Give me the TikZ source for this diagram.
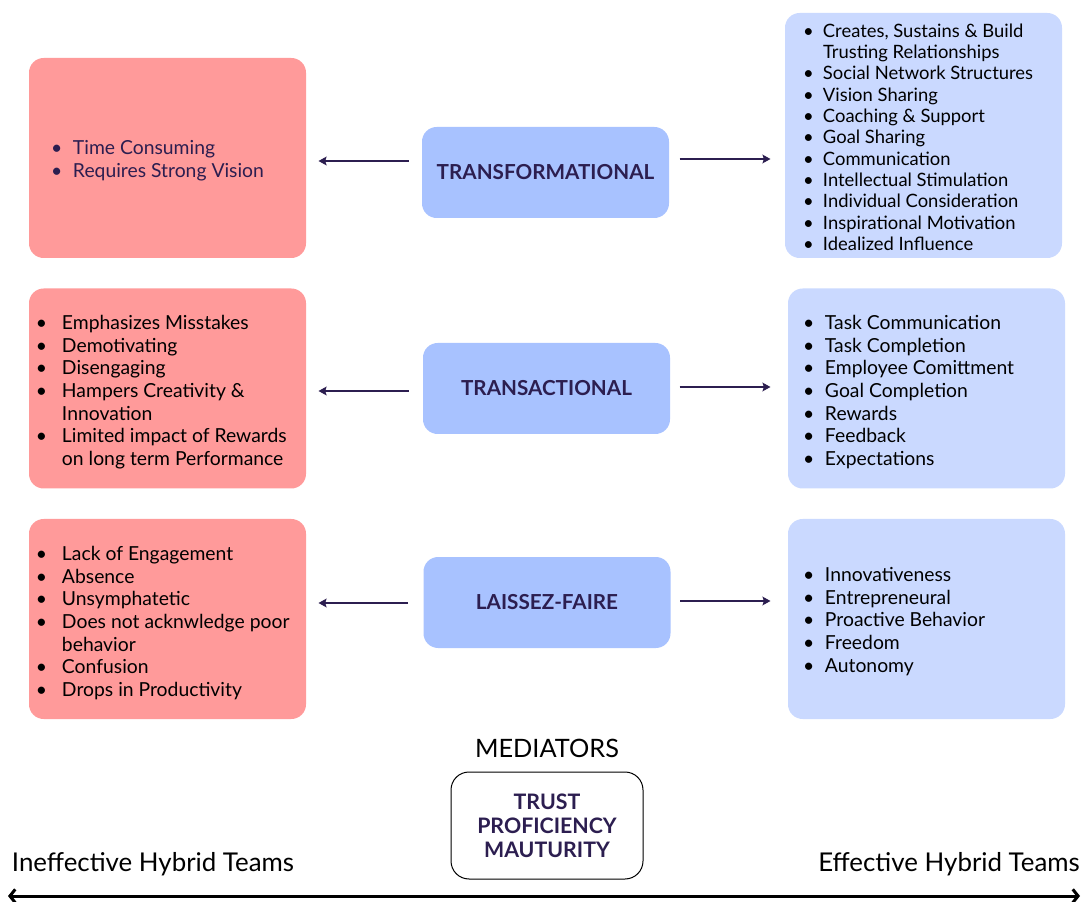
\documentclass[tikz,border=0pt]{standalone}
\usepackage{fontspec}
\setmainfont{Lato}
\usetikzlibrary{arrows.meta,calc}

\definecolor{redfill}{RGB}{255,154,154}
\definecolor{midblue}{RGB}{168,194,255}
\definecolor{paleblue}{RGB}{202,217,255}
\definecolor{ink}{RGB}{44,30,80}

\newlength{\bulw}
\setlength{\bulw}{16.5pt}
\newcommand{\itm}[1]{\makebox[\bulw][l]{\textbullet}#1}
\newcommand{\cnt}[1]{\hspace*{\bulw}#1}

\tikzset{every picture/.style={line width=0.75pt}}
\tikzset{
  redbox/.style={fill=redfill, rounded corners=11pt, minimum width=207.75pt, minimum height=150pt, inner sep=0pt},
  palebox/.style={fill=paleblue, rounded corners=11pt, minimum width=207.75pt, minimum height=150pt, inner sep=0pt},
  stylebox/.style={fill=midblue, rounded corners=11pt, minimum width=185.25pt, minimum height=68.25pt, inner sep=0pt, text=ink, font=\fontsize{15.5}{18}\selectfont\bfseries},
  itemlist/.style={anchor=west, inner sep=0pt, align=left, font=\fontsize{14.5}{17}\selectfont},
  bulgap/.code={\setlength{\bulw}{#1}},
  conn/.style={draw=ink, line width=1.5pt, -{Stealth[length=6pt,width=6.5pt,inset=1pt]}},
}

\begin{document}
\begin{tikzpicture}[x=0.75pt,y=0.75pt,yscale=-1,xscale=1]
\useasboundingbox (0,0) rectangle (1083,902);

%Shape: Rounded Rect [left column]
\node[redbox] (tfl) at (167.5,158) {};
\node[redbox] (tal) at (167.5,388.5) {};
\node[redbox] (lfl) at (167.5,619) {};
%Shape: Rounded Rect [styles]
\node[stylebox] (tf) at (545.5,172.5) {TRANSFORMATIONAL};
\node[stylebox] (ta) at (546.5,388.5) {TRANSACTIONAL};
\node[stylebox] (lf) at (547,602.5) {LAISSEZ-FAIRE};
%Shape: Rounded Rect [right column]
\node[palebox, minimum height=183.75pt] (tfr) at (923.5,135.5) {};
\node[palebox] (tar) at (926.5,388.5) {};
\node[palebox] (lfr) at (926.5,619) {};

% Text Node
\node[itemlist, text=ink, bulgap=16.5pt] (tfltxt) at ($(tfl.west)+(22,3)$) {\itm{Time Consuming}\\\itm{Requires Strong Vision}};
% Text Node
\node[itemlist, bulgap=19.5pt] (taltxt) at ($(tal.west)+(7,3.5)$) {\itm{Emphasizes Misstakes}\\\itm{Demotivating}\\\itm{Disengaging}\\\itm{Hampers Creativity \&}\\\cnt{Innovation}\\\itm{Limited impact of Rewards}\\\cnt{on long term Performance}};
% Text Node
\node[itemlist, bulgap=19.5pt] (lfltxt) at ($(lfl.west)+(7,4)$) {\itm{Lack of Engagement}\\\itm{Absence}\\\itm{Unsymphatetic}\\\itm{Does not acknwledge poor}\\\cnt{behavior}\\\itm{Confusion}\\\itm{Drops in Productivity}};
% Text Node
\node[itemlist, bulgap=15pt, font=\fontsize{13.8}{16}\selectfont] (tfrtxt) at ($(tfr.west)+(18,1.5)$) {\itm{Creates, Sustains \& Build}\\\cnt{Trusting Relationships}\\\itm{Social Network Structures}\\\itm{Vision Sharing}\\\itm{Coaching \& Support}\\\itm{Goal Sharing}\\\itm{Communication}\\\itm{Intellectual Stimulation}\\\itm{Individual Consideration}\\\itm{Inspirational Motivation}\\\itm{Idealized Influence}};
% Text Node
\node[itemlist, bulgap=16.5pt] (tartxt) at ($(tar.west)+(15,3.5)$) {\itm{Task Communication}\\\itm{Task Completion}\\\itm{Employee Comittment}\\\itm{Goal Completion}\\\itm{Rewards}\\\itm{Feedback}\\\itm{Expectations}};
% Text Node
\node[itemlist, bulgap=16.5pt] (lfrtxt) at ($(lfr.west)+(15,2.5)$) {\itm{Innovativeness}\\\itm{Entrepreneural}\\\itm{Proactive Behavior}\\\itm{Freedom}\\\itm{Autonomy}};

%Straight Lines [to the left]
\coordinate (tfa) at ($(tf.west)+(-13,-11.5)$);
\draw[conn, shorten >=9pt] (tfa) -- (tfa -| tfl.east);
\coordinate (taa) at ($(ta.west)+(-14,2.5)$);
\draw[conn, shorten >=9pt] (taa) -- (taa -| tal.east);
\coordinate (lfa) at ($(lf.west)+(-15,0.5)$);
\draw[conn, shorten >=9pt] (lfa) -- (lfa -| lfl.east);
%Straight Lines [to the right]
\coordinate (tfb) at ($(tf.east)+(10,-13.5)$);
\draw[conn, shorten >=10.5pt] (tfb) -- (tfb -| tfr.west);
\coordinate (tab) at ($(ta.east)+(9,-1.5)$);
\draw[conn, shorten >=12.75pt] (tab) -- (tab -| tar.west);
\coordinate (lfb) at ($(lf.east)+(9,-1.5)$);
\draw[conn, shorten >=12.75pt] (lfb) -- (lfb -| lfr.west);

% Text Node
\node[inner sep=0pt, font=\fontsize{19}{22}\selectfont] (medlbl) at (547,748) {MEDIATORS};
%Shape: Rounded Rect [mediators]
\node[draw, fill=white, rounded corners=13.5pt, minimum width=144pt, minimum height=80.25pt, inner sep=0pt, align=center, text=ink, font=\fontsize{16}{18}\selectfont\bfseries] (med) at (547,825.5) {TRUST\\PROFICIENCY\\MAUTURITY};

% Text Node
\node[inner sep=0pt, font=\fontsize{19.4}{22}\selectfont] (ineff) at (153,864) {Ineffective Hybrid Teams};
% Text Node
\node[inner sep=0pt, font=\fontsize{19.4}{22}\selectfont] (eff) at (949,864) {Effective Hybrid Teams};

%Straight Lines [scale]
\coordinate (lend) at (8,896);
\coordinate (rend) at (1080,896);
\draw[line width=2.25pt, {Straight Barb[length=4pt,width=10pt]}-{Straight Barb[length=4pt,width=10pt]}] (lend) -- (rend);

\end{tikzpicture}
\end{document}
